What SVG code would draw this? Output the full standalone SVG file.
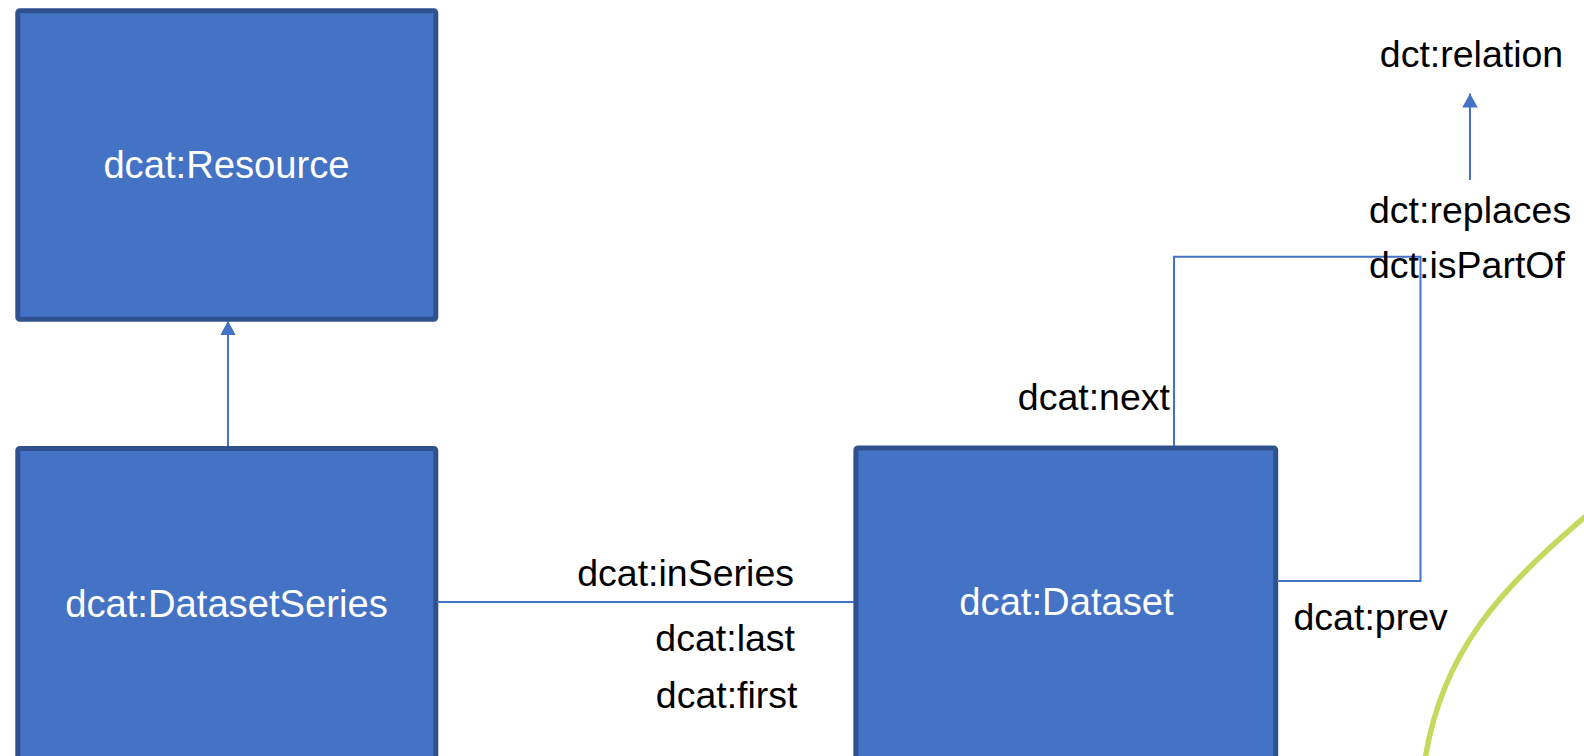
<svg xmlns="http://www.w3.org/2000/svg" width="1584" height="756" viewBox="0 0 1584 756">
<style>
.box{fill:#4472C4;stroke:#2F528F;stroke-width:5}
.nl{font-family:"Liberation Sans",Arial,sans-serif;font-size:38.2px;fill:#FFFFFF;text-anchor:middle}
.el{font-family:"Liberation Sans",Arial,sans-serif;font-size:37.5px;fill:#000000}
.ln{fill:none;stroke:#4472C4;stroke-width:2}
</style>
<defs>
<marker id="arr" markerUnits="userSpaceOnUse" markerWidth="16" markerHeight="16" refX="14" refY="7.75" orient="auto">
<path d="M0,0 L14,7.75 L0,15.5 z" fill="#4472C4"/>
</marker>
</defs>
<rect width="1584" height="756" fill="#FFFFFF"/>
<g id="resource">
<rect class="box" x="17.8" y="10.8" width="418" height="308.5" rx="2"/>
<text class="nl" x="226.5" y="178">dcat:Resource</text>
</g>
<g id="datasetseries">
<rect class="box" x="17.8" y="448.5" width="418" height="400" rx="2"/>
<text class="nl" x="226.5" y="616.5">dcat:DatasetSeries</text>
</g>
<g id="dataset">
<rect class="box" x="855.9" y="448" width="419.8" height="400" rx="2"/>
<text class="nl" x="1066.5" y="615">dcat:Dataset</text>
</g>
<g id="relation">
<text class="el" x="1471.5" y="66.5" text-anchor="middle">dct:relation</text>
</g>
<g id="connectors">
<line class="ln" x1="228" y1="446" x2="228" y2="321" marker-end="url(#arr)"/>
<line class="ln" x1="1470" y1="180" x2="1470" y2="93.5" marker-end="url(#arr)"/>
<line class="ln" x1="437" y1="602" x2="854" y2="602"/>
<polyline class="ln" points="1174,446 1174,256.7 1420.5,256.7 1420.5,581 1277,581"/>
<path d="M1586 516 C1502 588 1442 650 1425 760" fill="none" stroke="#C5D95E" stroke-width="5.5"/>
</g>
<g id="labels">
<text class="el" x="794" y="586" text-anchor="end">dcat:inSeries</text>
<text class="el" x="795" y="650.5" text-anchor="end">dcat:last</text>
<text class="el" x="797.5" y="708.3" text-anchor="end">dcat:first</text>
<text class="el" x="1170" y="410" text-anchor="end">dcat:next</text>
<text class="el" x="1293.5" y="630">dcat:prev</text>
<text class="el" x="1369" y="223.3">dct:replaces</text>
<text class="el" x="1369" y="278.3">dct:isPartOf</text>
</g>
</svg>
